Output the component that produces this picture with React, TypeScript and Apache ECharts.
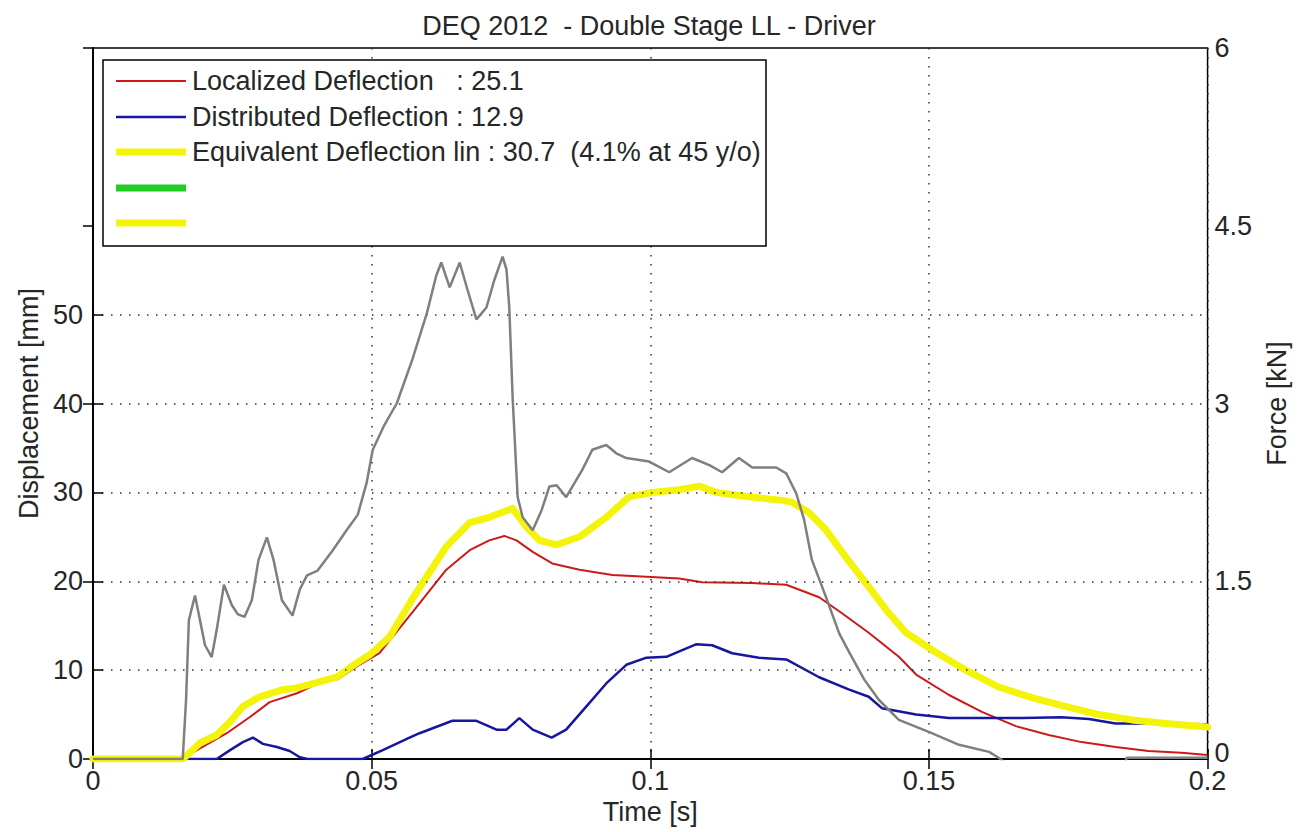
import React, { useEffect, useRef } from "react";
import * as echarts from "echarts";

// ---------- data ----------
const TITLE = "DEQ 2012  - Double Stage LL - Driver";
const X_NAME = "Time [s]";
const Y_LEFT_NAME = "Displacement [mm]";
const Y_RIGHT_NAME = "Force [kN]";

const LEGEND_TEXTS = [
  "Localized Deflection   : 25.1",
  "Distributed Deflection : 12.9",
  "Equivalent Deflection lin : 30.7  (4.1% at 45 y/o)",
  "",
  "",
];

const LEFT_TICKS = [0, 10, 20, 30, 40, 50];
const GRID_Y = [10, 20, 30, 40, 50];

// Localized deflection [mm]
const locT = [0, 0.016, 0.0192, 0.024, 0.0281, 0.0317, 0.0366, 0.04, 0.044, 0.0478, 0.0514, 0.0573, 0.0634, 0.0676, 0.0711, 0.0738, 0.076, 0.0789, 0.0824, 0.0873, 0.0932, 0.0993, 0.1052, 0.1093, 0.1183, 0.1244, 0.1303, 0.1344, 0.1392, 0.1446, 0.1477, 0.1536, 0.1595, 0.1656, 0.1715, 0.1774, 0.1835, 0.1894, 0.1953, 0.2];
const locMM = [0, 0, 1.2, 2.9, 4.7, 6.4, 7.4, 8.4, 9.0, 10.6, 11.9, 16.5, 21.3, 23.5, 24.6, 25.1, 24.6, 23.3, 22.0, 21.3, 20.7, 20.5, 20.3, 19.9, 19.8, 19.6, 18.2, 16.4, 14.2, 11.5, 9.5, 7.2, 5.3, 3.7, 2.7, 1.9, 1.35, 0.9, 0.7, 0.45];

// Distributed deflection [mm]
const distT = [0, 0.0222, 0.0246, 0.0269, 0.0287, 0.0305, 0.033, 0.0353, 0.0371, 0.0385, 0.0484, 0.052, 0.0568, 0.0586, 0.0645, 0.0688, 0.0724, 0.0742, 0.0765, 0.0789, 0.0823, 0.0849, 0.0885, 0.0921, 0.0957, 0.0993, 0.1029, 0.1052, 0.1082, 0.1111, 0.1147, 0.1195, 0.1244, 0.1303, 0.1357, 0.1392, 0.1416, 0.1477, 0.1536, 0.1595, 0.1667, 0.1738, 0.1787, 0.1835, 0.1855, 0.2];
const distMM = [0, 0, 1.0, 1.9, 2.4, 1.7, 1.35, 0.9, 0.2, 0, 0, 1.0, 2.4, 2.9, 4.3, 4.3, 3.3, 3.3, 4.6, 3.3, 2.4, 3.3, 5.9, 8.5, 10.6, 11.4, 11.5, 12.1, 12.9, 12.8, 11.9, 11.4, 11.2, 9.2, 7.8, 7.0, 5.7, 5.0, 4.6, 4.6, 4.6, 4.7, 4.5, 4.0, 4.0, 3.9];

// Equivalent deflection [mm]
const eqT = [0, 0.0161, 0.0165, 0.0192, 0.0222, 0.0246, 0.0269, 0.0299, 0.0341, 0.0366, 0.0401, 0.0437, 0.0473, 0.0496, 0.0532, 0.0573, 0.0634, 0.0676, 0.0711, 0.0753, 0.0778, 0.0801, 0.0832, 0.0873, 0.0921, 0.0962, 0.1004, 0.1052, 0.1088, 0.1118, 0.1177, 0.1237, 0.1254, 0.1285, 0.1315, 0.1351, 0.1387, 0.1423, 0.1459, 0.1505, 0.1566, 0.1625, 0.1685, 0.1746, 0.1805, 0.1864, 0.1925, 0.2];
const eqMM = [0, 0, 0.2, 1.8, 2.7, 4.2, 5.9, 7.0, 7.8, 8.0, 8.6, 9.2, 10.8, 11.7, 13.7, 18.0, 23.9, 26.6, 27.2, 28.2, 26.1, 24.6, 24.1, 25.0, 27.2, 29.5, 30.0, 30.3, 30.7, 30.0, 29.5, 29.1, 28.9, 27.7, 25.8, 22.7, 19.8, 16.8, 14.2, 12.3, 10.0, 8.1, 6.9, 5.9, 5.0, 4.4, 4.0, 3.6];

// Force [kN]
const forceT = [0, 0.0161, 0.0167, 0.0172, 0.0183, 0.0192, 0.0201, 0.0213, 0.0222, 0.0235, 0.0249, 0.026, 0.0272, 0.0285, 0.0297, 0.0312, 0.0324, 0.0339, 0.0358, 0.0371, 0.0384, 0.0403, 0.043, 0.0455, 0.0475, 0.0491, 0.0502, 0.0523, 0.0545, 0.0573, 0.0599, 0.0616, 0.0625, 0.064, 0.0658, 0.0672, 0.0688, 0.0706, 0.072, 0.0735, 0.0742, 0.0747, 0.0753, 0.0762, 0.0771, 0.0789, 0.0805, 0.0819, 0.0832, 0.0849, 0.0878, 0.0896, 0.0921, 0.0939, 0.0957, 0.0998, 0.1034, 0.1075, 0.1106, 0.1129, 0.1159, 0.1183, 0.1226, 0.1244, 0.1262, 0.1276, 0.129, 0.1315, 0.1339, 0.1357, 0.1384, 0.141, 0.1446, 0.1504, 0.1554, 0.1608, 0.1625, 0.1643, 0.185, 0.1855, 0.2];
const forceKN = [0, 0, 0.5, 1.17, 1.38, 1.17, 0.96, 0.86, 1.09, 1.47, 1.3, 1.22, 1.2, 1.34, 1.68, 1.87, 1.68, 1.34, 1.21, 1.43, 1.55, 1.59, 1.76, 1.93, 2.06, 2.33, 2.61, 2.82, 3.0, 3.37, 3.76, 4.08, 4.19, 3.98, 4.19, 3.96, 3.71, 3.81, 4.04, 4.24, 4.13, 3.81, 3.05, 2.21, 2.04, 1.93, 2.1, 2.3, 2.31, 2.21, 2.44, 2.61, 2.65, 2.58, 2.54, 2.51, 2.42, 2.54, 2.48, 2.42, 2.54, 2.46, 2.46, 2.41, 2.24, 2.02, 1.68, 1.37, 1.06, 0.9, 0.67, 0.5, 0.33, 0.22, 0.12, 0.06, 0.01, -0.05, -0.05, 0.01, 0.01];

// ---------- styles ----------
const FONT = "'Liberation Sans', Arial, Helvetica, sans-serif";
const FS = 27;
const TXT = "#262626";
const RED = "#cc1a1a";
const BLUE = "#1616a0";
const YELLOW = "#f4f40a";
const GRAY = "#7f7f7f";
const GREEN = "#22cc22";
const DOT = { type: [1.5, 7.5] as any, width: 1.5, color: "#333333" };
const TICK_LEN_X = 0.0018; // tick length in time units (about 10px)

const zip = (a: number[], b: number[]) => a.map((v, i) => [v, b[i]]);

export default function App() {
  const ref = useRef<HTMLDivElement>(null);

  useEffect(() => {
    if (!ref.current) return;
    const chart = echarts.init(ref.current, null, { renderer: "svg" });

    const gL = 93, gT = 48, gR = 1210, gB = 759;
    const legendX = 103, legendY = 60, legendW = 663, legendH = 186;
    const rowY = [81, 117, 152, 188, 223];
    const legendColors = [RED, BLUE, YELLOW, GREEN, YELLOW];
    const legendWidths = [2, 2.5, 7, 7, 7];

    const legendEls: any[] = [
      {
        type: "rect",
        shape: { x: legendX, y: legendY, width: legendW, height: legendH },
        style: { fill: "#ffffff", stroke: "#000000", lineWidth: 1.5 },
        z: 100,
      },
    ];
    rowY.forEach((y, i) => {
      legendEls.push({
        type: "line",
        shape: { x1: 116, y1: y, x2: 186, y2: y },
        style: { stroke: legendColors[i], lineWidth: legendWidths[i] },
        z: 101,
      });
      if (LEGEND_TEXTS[i]) {
        legendEls.push({
          type: "text",
          x: 192,
          y: y,
          style: {
            text: LEGEND_TEXTS[i],
            font: `${FS}px ${FONT}`,
            fill: TXT,
            textVerticalAlign: "middle",
            verticalAlign: "middle",
          },
          z: 101,
        });
      }
    });

    const tickStyle = { type: "solid", color: "#000000", width: 1.5 };
    const leftTickMarks = LEFT_TICKS.filter((v) => v > 0).map((v) => [
      { coord: [0, v], lineStyle: tickStyle },
      { coord: [TICK_LEN_X, v] },
    ]);

    const option: any = {
      animation: false,
      backgroundColor: "#ffffff",
      title: {
        text: TITLE,
        left: "center",
        top: 7,
        textStyle: { fontFamily: FONT, fontSize: FS, fontWeight: "normal", color: TXT },
      },
      grid: {
        left: gL,
        top: gT,
        right: 1298 - gR,
        bottom: 832 - gB,
        show: true,
        borderColor: "#000000",
        borderWidth: 1.5,
        backgroundColor: "transparent",
      },
      xAxis: [
        {
          type: "value",
          min: 0,
          max: 0.2,
          interval: 0.05,
          name: X_NAME,
          nameLocation: "middle",
          nameGap: 37,
          nameTextStyle: { fontFamily: FONT, fontSize: FS, color: TXT },
          axisLine: { show: true, lineStyle: { color: "#000", width: 1.5 } },
          axisTick: { show: true, inside: true, length: 10, lineStyle: { color: "#000", width: 1.5 } },
          axisLabel: { fontFamily: FONT, fontSize: FS, color: TXT, margin: 8 },
          splitLine: { show: true, lineStyle: DOT },
        },
        {
          type: "value",
          position: "top",
          min: 0,
          max: 0.2,
          interval: 0.05,
          axisLine: { show: true, lineStyle: { color: "#000", width: 1.5 } },
          axisTick: { show: true, inside: true, length: 10, lineStyle: { color: "#000", width: 1.5 } },
          axisLabel: { show: false },
          splitLine: { show: false },
        },
      ],
      yAxis: [
        {
          type: "value",
          min: 0,
          max: 80,
          interval: 10,
          name: Y_LEFT_NAME,
          nameLocation: "middle",
          nameRotate: 90,
          nameGap: 48,
          nameTextStyle: { fontFamily: FONT, fontSize: FS, color: TXT },
          axisLine: { show: true, lineStyle: { color: "#000", width: 1.5 } },
          axisTick: { show: false },
          minorTick: { show: false },
          minorSplitLine: { show: false },
          axisLabel: {
            fontFamily: FONT,
            fontSize: FS,
            color: TXT,
            margin: 10,
            formatter: (v: number) => (LEFT_TICKS.indexOf(v) >= 0 ? String(v) : ""),
          },
          splitLine: { show: false },
        },
        {
          type: "value",
          min: 0,
          max: 6,
          interval: 1.5,
          position: "right",
          name: Y_RIGHT_NAME,
          nameLocation: "middle",
          nameRotate: 90,
          nameGap: 55,
          nameTextStyle: { fontFamily: FONT, fontSize: FS, color: TXT },
          axisLine: { show: true, lineStyle: { color: "#000", width: 1.5 } },
          axisTick: { show: true, inside: true, length: 10, lineStyle: { color: "#000", width: 1.5 } },
          axisLabel: {
            fontFamily: FONT,
            fontSize: FS,
            color: TXT,
            margin: 7,
            formatter: (v: number) => (v === 0 ? "{z|0}" : String(v)),
            rich: { z: { fontFamily: FONT, fontSize: FS, color: TXT, padding: [0, 0, 12, 0] } },
          },
          splitLine: { show: false },
        },
      ],
      series: [
        {
          name: "grid",
          type: "line",
          data: [],
          z: 1,
          silent: true,
          markLine: {
            silent: true,
            symbol: "none",
            label: { show: false },
            lineStyle: DOT,
            data: [...GRID_Y.map((v) => ({ yAxis: v })), ...leftTickMarks],
          },
        },
        {
          name: "Localized Deflection",
          type: "line",
          data: zip(locT, locMM),
          symbol: "none",
          lineStyle: { color: RED, width: 2 },
          itemStyle: { color: RED },
          z: 2,
        },
        {
          name: "Distributed Deflection",
          type: "line",
          data: zip(distT, distMM),
          symbol: "none",
          lineStyle: { color: BLUE, width: 2.5 },
          itemStyle: { color: BLUE },
          z: 3,
        },
        {
          name: "Equivalent Deflection lin",
          type: "line",
          data: zip(eqT, eqMM),
          symbol: "none",
          lineStyle: { color: YELLOW, width: 7, cap: "round", join: "round" },
          itemStyle: { color: YELLOW },
          z: 4,
        },
        {
          name: "Force",
          type: "line",
          yAxisIndex: 1,
          data: zip(forceT, forceKN),
          symbol: "none",
          clip: true,
          lineStyle: { color: GRAY, width: 2.5 },
          itemStyle: { color: GRAY },
          z: 5,
        },
      ],
      graphic: legendEls,
    };

    chart.setOption(option);
    return () => chart.dispose();
  }, []);

  return (
    <div
      ref={ref}
      style={{ position: "fixed", left: 0, top: 0, width: 1298, height: 832, background: "#fff" }}
    />
  );
}
